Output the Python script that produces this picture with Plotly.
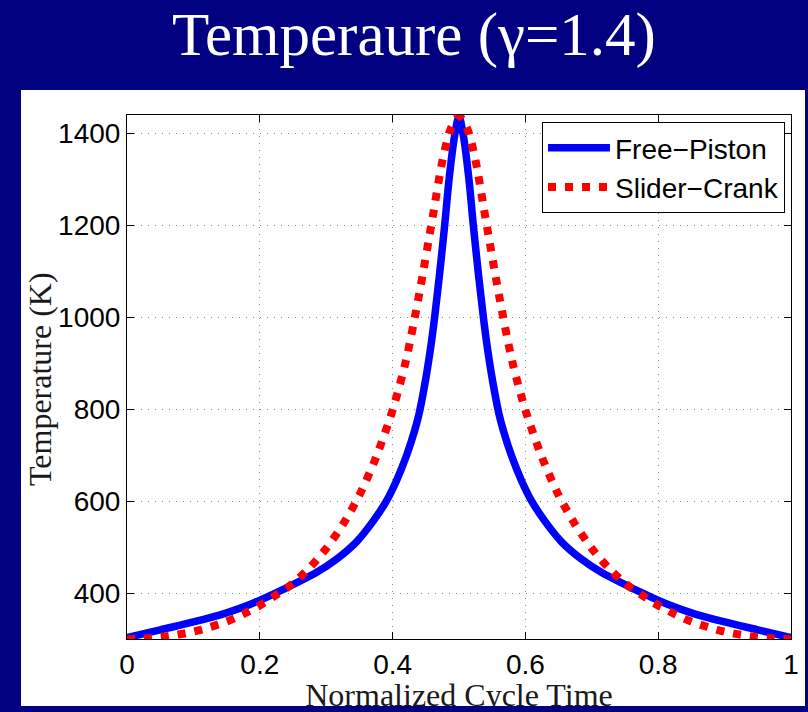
import plotly.graph_objects as go

# data
t_free = [0, 0.05, 0.1, 0.15, 0.185, 0.2354, 0.2857, 0.3158, 0.346, 0.371, 0.391, 0.406,
          0.421, 0.4337, 0.44, 0.4497, 0.4578, 0.4633, 0.4703, 0.4784, 0.4854, 0.494, 0.5,
          0.506, 0.5146, 0.5216, 0.5297, 0.5367, 0.5422, 0.5503, 0.56, 0.5663, 0.579,
          0.594, 0.609, 0.629, 0.654, 0.6842, 0.7143, 0.7646, 0.815, 0.85, 0.9, 0.95, 1.0]
T_free = [303, 320, 337, 357, 375, 408, 445, 474, 512, 557, 601, 645,
          699, 756, 791, 864, 939, 1000, 1088, 1200, 1305, 1400, 1436,
          1400, 1305, 1200, 1088, 1000, 939, 864, 791, 756, 699,
          645, 601, 557, 512, 474, 445, 408, 375, 357, 337, 320, 303]

t_crank = [0, 0.025, 0.05, 0.075, 0.1, 0.125, 0.15, 0.175, 0.2, 0.225, 0.25, 0.275, 0.3,
           0.325, 0.35, 0.375, 0.4, 0.42, 0.44, 0.46, 0.475, 0.4875, 0.5, 0.5125, 0.525,
           0.54, 0.56, 0.58, 0.6, 0.625, 0.65, 0.675, 0.7, 0.725, 0.75, 0.775, 0.8, 0.825,
           0.85, 0.875, 0.9, 0.925, 0.95, 0.975, 1.0]
T_crank = [299, 301, 304, 309, 316, 326, 338, 354, 373, 396, 421, 455, 497,
           549, 613, 695, 798, 905, 1050, 1215, 1340, 1410, 1437, 1410, 1340,
           1215, 1050, 905, 798, 695, 613, 549, 497, 455, 421, 396, 373, 354,
           338, 326, 316, 309, 304, 301, 299]

x_ticks = [0, 0.2, 0.4, 0.6, 0.8, 1]
x_labels = ['0', '0.2', '0.4', '0.6', '0.8', '1']
y_ticks = [400, 600, 800, 1000, 1200, 1400]

W, H = 808, 712
NAVY = '#000080'
SERIF = 'Liberation Serif, Times New Roman, serif'
SANS = 'Liberation Sans, Arial, sans-serif'

fig = go.Figure()
fig.add_trace(go.Scatter(x=t_free, y=T_free, mode='lines', name='Free\u2212Piston',
                         line=dict(color='#0000ff', width=7.5, shape='spline', smoothing=1)))
fig.add_trace(go.Scatter(x=t_crank, y=T_crank, mode='lines', name='Slider\u2212Crank',
                         line=dict(color='#ff0000', width=8, dash='8px,9px',
                                   shape='spline', smoothing=0.8)))

# x-axis title as text on a helper subplot so the bottom navy strip clips it
fig.add_trace(go.Scatter(x=[(459 - 21) / 784], y=[8], mode='text',
                         text=['Normalized Cycle Time'],
                         textfont=dict(family=SERIF, size=32, color='#1a1a1a'),
                         xaxis='x2', yaxis='y2', showlegend=False, hoverinfo='skip',
                         cliponaxis=True))

axis_common = dict(showline=True, linecolor='black', linewidth=1, mirror='ticks',
                   ticks='inside', ticklen=7, tickcolor='black', automargin=False,
                   showgrid=True, gridcolor='#8a8a8a', griddash='1px,6px', gridwidth=1,
                   zeroline=False, tickfont=dict(family=SANS, size=28, color='black'))

fig.update_layout(
    width=W, height=H,
    margin=dict(l=0, r=0, t=0, b=0),
    paper_bgcolor=NAVY, plot_bgcolor='white',
    xaxis=dict(domain=[127 / W, 791 / W], range=[0, 1], tickvals=x_ticks,
               ticktext=x_labels, anchor='y', **axis_common),
    yaxis=dict(domain=[(H - 639) / H, (H - 115) / H], range=[300, 1440],
               tickvals=y_ticks, anchor='x', **axis_common),
    xaxis2=dict(domain=[21 / W, 805 / W], range=[0, 1], visible=False, anchor='y2'),
    yaxis2=dict(domain=[6 / H, 36 / H], range=[0, 30], visible=False, anchor='x2'),
    legend=dict(x=785 / W, y=(H - 122) / H, xanchor='right', yanchor='top',
                bgcolor='white', bordercolor='black', borderwidth=1, itemwidth=62,
                font=dict(family=SANS, size=28, color='black')),
    shapes=[dict(type='rect', xref='paper', yref='paper', x0=21 / W, x1=805 / W,
                 y0=6 / H, y1=(H - 90) / H, fillcolor='white', line=dict(width=0),
                 layer='below')],
    annotations=[
        dict(text='Temperaure (\u03b3=1.4)', x=414 / W, y=(H - 35) / H, xref='paper',
             yref='paper', xanchor='center', yanchor='middle', showarrow=False,
             font=dict(family=SERIF, size=61, color='white')),
        dict(text='Temperature (K)', x=40 / W, y=(H - 379) / H, xref='paper',
             yref='paper', xanchor='center', yanchor='middle', textangle=-90,
             showarrow=False, font=dict(family=SERIF, size=32, color='#1a1a1a')),
    ],
)

# drop the page's default body margin so the figure sits at the window corner
fig.write_html('out.html', config={'displayModeBar': False},
               post_script="document.body.style.margin='0';")
